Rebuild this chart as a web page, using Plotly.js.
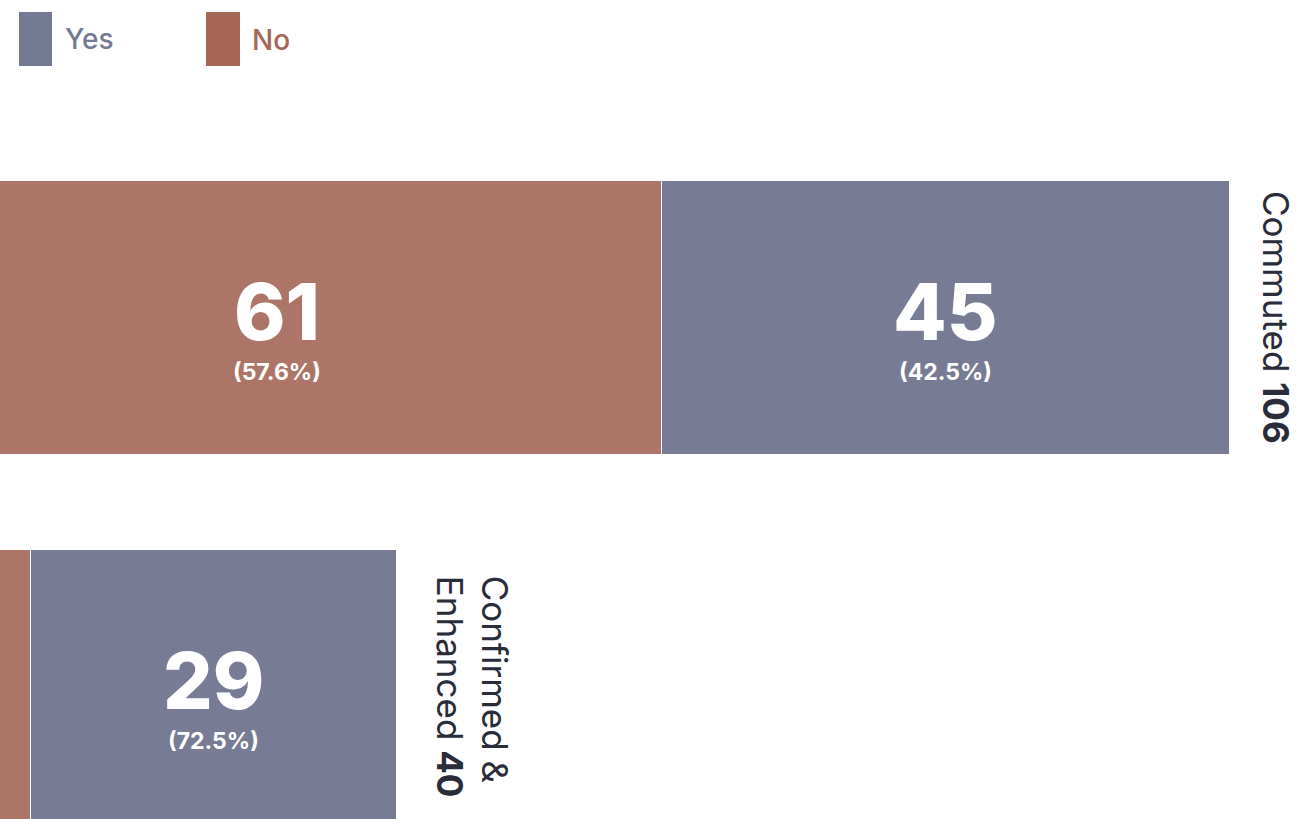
<!DOCTYPE html>
<html>
<head>
<meta charset="utf-8">
<script src="https://cdn.plot.ly/plotly-3.0.1.min.js"></script>
<style>
  html, body { margin: 0; padding: 0; background: #ffffff; }
  #chart { width: 1297px; height: 819px; }
</style>
</head>
<body>
<div id="chart"></div>
<script>
// ---- data ----
const categories = ["Commuted", "Confirmed &<br>Enhanced"];
const noValues = [61, 11];
const yesValues = [45, 29];
const noPct = ["57.6%", "27.5%"];
const yesPct = ["42.5%", "72.5%"];
const totals = [106, 40];
const seriesNames = ["Yes", "No"];

// ---- style ----
const W = 1297, H = 819;
const yesColor = "#777c94";
const noColor = "#ad7568";
const legendYes = "#747a93";
const legendNo = "#a56557";
const darkText = "#2a2c3a";
const xRange = [8.56, 111.34];
const yRange = [1.359, -0.8604];
const FONT = "Inter, 'Open Sans', sans-serif";

const traceNo = {
  type: "bar", orientation: "h", name: seriesNames[1],
  y: categories, x: noValues,
  marker: { color: noColor, line: { color: "#ffffff", width: 1 } },
  width: 0.742, hoverinfo: "none", showlegend: false
};
const traceYes = {
  type: "bar", orientation: "h", name: seriesNames[0],
  y: categories, x: yesValues,
  marker: { color: yesColor, line: { color: "#ffffff", width: 1 } },
  width: 0.742, hoverinfo: "none", showlegend: false
};

const annotations = [];
function addSegmentLabel(center, cat, val, pct) {
  if (center <= xRange[0]) return;
  annotations.push({
    x: center, y: cat, xref: "x", yref: "y", showarrow: false,
    text: String(val), yshift: 6,
    font: { family: FONT, size: 78, color: "#ffffff", weight: 800 }
  });
  annotations.push({
    x: center, y: cat, xref: "x", yref: "y", showarrow: false,
    text: "(" + pct + ")", yshift: -54,
    font: { family: FONT, size: 23, color: "#ffffff", weight: 700 }
  });
}
categories.forEach((cat, i) => {
  addSegmentLabel(noValues[i] / 2, cat, noValues[i], noPct[i]);
  addSegmentLabel(noValues[i] + yesValues[i] / 2, cat, yesValues[i], yesPct[i]);
  const multiLine = cat.indexOf("<br>") >= 0;
  annotations.push({
    x: totals[i], y: cat, xref: "x", yref: "y", showarrow: false,
    xanchor: "left", yanchor: "middle", xshift: multiLine ? 30 : 24, textangle: 90, align: "left",
    text: cat + " <b>" + totals[i] + "</b>",
    font: { family: FONT, size: 35, color: darkText }
  });
});

// legend drawn with shapes + annotations (pixel -> paper)
const px = v => v / W;
const py = v => 1 - v / H;
const shapes = [
  { type: "rect", xref: "paper", yref: "paper", x0: px(19), x1: px(52), y0: py(66), y1: py(12),
    fillcolor: legendYes, line: { width: 0 } },
  { type: "rect", xref: "paper", yref: "paper", x0: px(206), x1: px(240), y0: py(66), y1: py(12),
    fillcolor: legendNo, line: { width: 0 } }
];
annotations.push({
  x: px(63), y: py(39), xref: "paper", yref: "paper", xanchor: "left", yanchor: "middle",
  showarrow: false, text: seriesNames[0], font: { family: FONT, size: 28, color: legendYes, weight: 500 }
});
annotations.push({
  x: px(250), y: py(40), xref: "paper", yref: "paper", xanchor: "left", yanchor: "middle",
  showarrow: false, text: seriesNames[1], font: { family: FONT, size: 28, color: legendNo, weight: 500 }
});

const layout = {
  width: W, height: H,
  margin: { l: 0, r: 0, t: 0, b: 0, pad: 0 },
  paper_bgcolor: "#ffffff", plot_bgcolor: "#ffffff",
  barmode: "stack",
  showlegend: false,
  xaxis: { range: xRange, visible: false, showgrid: false, zeroline: false, fixedrange: true },
  yaxis: { type: "category", categoryarray: categories, range: yRange,
           visible: false, showgrid: false, zeroline: false, fixedrange: true },
  annotations: annotations,
  shapes: shapes
};

Plotly.newPlot("chart", [traceNo, traceYes], layout, { displayModeBar: false, staticPlot: true });
</script>
</body>
</html>
